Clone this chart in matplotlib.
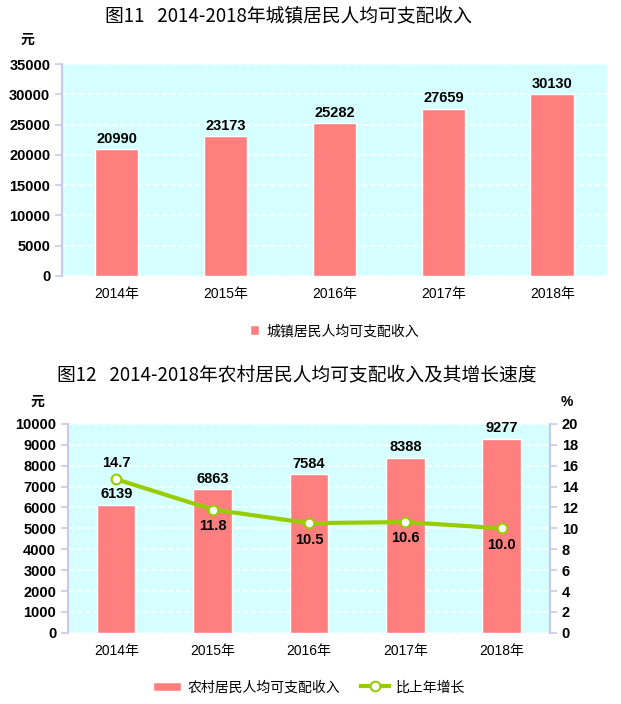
import matplotlib.pyplot as plt
import numpy as np

plt.rcParams['font.family'] = ['Liberation Sans', 'Noto Sans CJK SC']

years = ['2014年', '2015年', '2016年', '2017年', '2018年']
urban_income = [20990, 23173, 25282, 27659, 30130]
rural_income = [6139, 6863, 7584, 8388, 9277]
rural_growth = [14.7, 11.8, 10.5, 10.6, 10.0]

bar_color = '#FF7F7F'
bg_color = '#D6FFFF'
line_color = '#99CC00'
spine_color = '#C8C8F0'

fig = plt.figure(figsize=(6.21, 7.04), dpi=100)
x = np.arange(len(years))


def style_axes(ax):
    ax.set_facecolor(bg_color)
    ax.grid(axis='y', color='white', linestyle=(0, (3, 2)), linewidth=1.2)
    ax.set_axisbelow(True)
    for s in ['top', 'right', 'bottom']:
        ax.spines[s].set_visible(False)
    ax.spines['left'].set_color(spine_color)
    ax.spines['left'].set_linewidth(1.5)
    ax.tick_params(axis='y', color=spine_color, length=5, width=1.2, labelsize=10.5)
    ax.tick_params(axis='x', length=0, labelsize=10, pad=8)
    for lab in ax.get_yticklabels():
        lab.set_fontweight('bold')


# ---- figure 11
ax1 = fig.add_axes([0.100, 0.608, 0.877, 0.301])
ax1.bar(x, urban_income, width=0.4, color=bar_color, edgecolor='white',
        linewidth=1, label='城镇居民人均可支配收入')
ax1.set_xlim(-0.5, 4.5)
ax1.set_ylim(0, 35000)
ax1.set_yticks(np.arange(0, 35001, 5000))
ax1.set_xticks(x)
ax1.set_xticklabels(years)
style_axes(ax1)
for xi, v in zip(x, urban_income):
    ax1.text(xi, v + 500, str(v), ha='center', va='bottom', fontsize=10.5, fontweight='bold')
fig.text(0.464, 0.978, '图11   2014-2018年城镇居民人均可支配收入', ha='center', va='center',
         fontsize=13.5, family=['Noto Sans CJK SC'])
fig.text(0.045, 0.943, '元', ha='center', va='center', fontsize=10, fontweight='bold')
ax1.legend(loc='center', bbox_to_anchor=(0.5, -0.26), frameon=False, fontsize=10,
           handlelength=0.7, handleheight=0.7, handletextpad=0.5)

# ---- figure 12
ax2 = fig.add_axes([0.1095, 0.101, 0.776, 0.297])
ax2.bar(x, rural_income, width=0.4, color=bar_color, edgecolor='white', linewidth=1,
        label='农村居民人均可支配收入')
ax2.set_xlim(-0.5, 4.5)
ax2.set_ylim(0, 10000)
ax2.set_yticks(np.arange(0, 10001, 1000))
ax2.set_xticks(x)
ax2.set_xticklabels(years)
style_axes(ax2)
for xi, v in zip(x, rural_income):
    ax2.text(xi, v + 180, str(v), ha='center', va='bottom', fontsize=10.5, fontweight='bold')

ax3 = ax2.twinx()
ax3.plot(x, rural_growth, color=line_color, linewidth=3, marker='o', markersize=7,
         markerfacecolor='white', markeredgecolor=line_color, markeredgewidth=1.5,
         label='比上年增长')
ax3.set_ylim(0, 20)
ax3.set_yticks(np.arange(0, 21, 2))
for s in ['top', 'left', 'bottom']:
    ax3.spines[s].set_visible(False)
ax3.spines['right'].set_color(spine_color)
ax3.spines['right'].set_linewidth(1.5)
ax3.tick_params(axis='y', color=spine_color, length=5, width=1.2, labelsize=10.5)
for lab in ax3.get_yticklabels():
    lab.set_fontweight('bold')
for i, (xi, v) in enumerate(zip(x, rural_growth)):
    dy = 0.9 if i == 0 else -0.9
    ax3.text(xi, v + dy, f'{v:.1f}', ha='center', va='bottom' if dy > 0 else 'top',
             fontsize=10.5, fontweight='bold')

fig.text(0.478, 0.467, '图12   2014-2018年农村居民人均可支配收入及其增长速度', ha='center',
         va='center', fontsize=13.5, family=['Noto Sans CJK SC'])
fig.text(0.06, 0.429, '元', ha='center', va='center', fontsize=10, fontweight='bold')
fig.text(0.913, 0.429, '%', ha='center', va='center', fontsize=10, fontweight='bold')

h1, l1 = ax2.get_legend_handles_labels()
h2, l2 = ax3.get_legend_handles_labels()
ax2.legend(h1 + h2, l1 + l2, loc='center', bbox_to_anchor=(0.5, -0.26), ncol=2,
           frameon=False, fontsize=10, handletextpad=0.5, columnspacing=1.5)

fig.savefig('out.png', dpi=100)
